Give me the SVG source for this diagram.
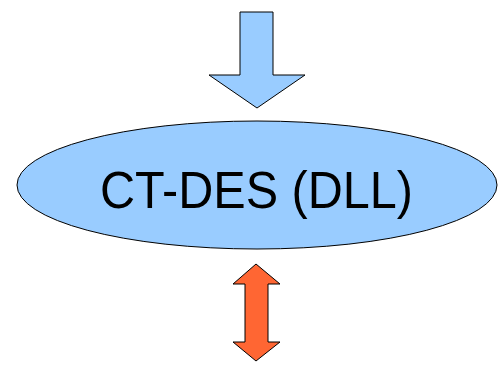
<svg xmlns="http://www.w3.org/2000/svg" width="499" height="366" viewBox="0 0 499 366">
<style>
.shape{stroke:#000;stroke-width:1;stroke-linejoin:miter}
.lbl{font-family:"Liberation Sans",Arial,sans-serif;font-size:52px;fill:#000}
</style>
<rect width="499" height="366" fill="#fff"/>
<g id="connectors">
<polygon id="arrow-in" class="shape" fill="#99ccff" points="240,12 273,12 273,75 305,75 257,108 209,75 240,75"/>
<polygon id="arrow-io" class="shape" fill="#ff6633" points="256,264 280,284 268,284 268,342 280,342 256,361 233,342 245,342 245,284 233,284"/>
</g>
<g id="node-ctdes">
<ellipse class="shape" fill="#99ccff" cx="257" cy="185" rx="240" ry="64"/>
<text class="lbl" x="100" y="208" textLength="313" lengthAdjust="spacingAndGlyphs">CT-DES (DLL)</text>
</g>
</svg>
